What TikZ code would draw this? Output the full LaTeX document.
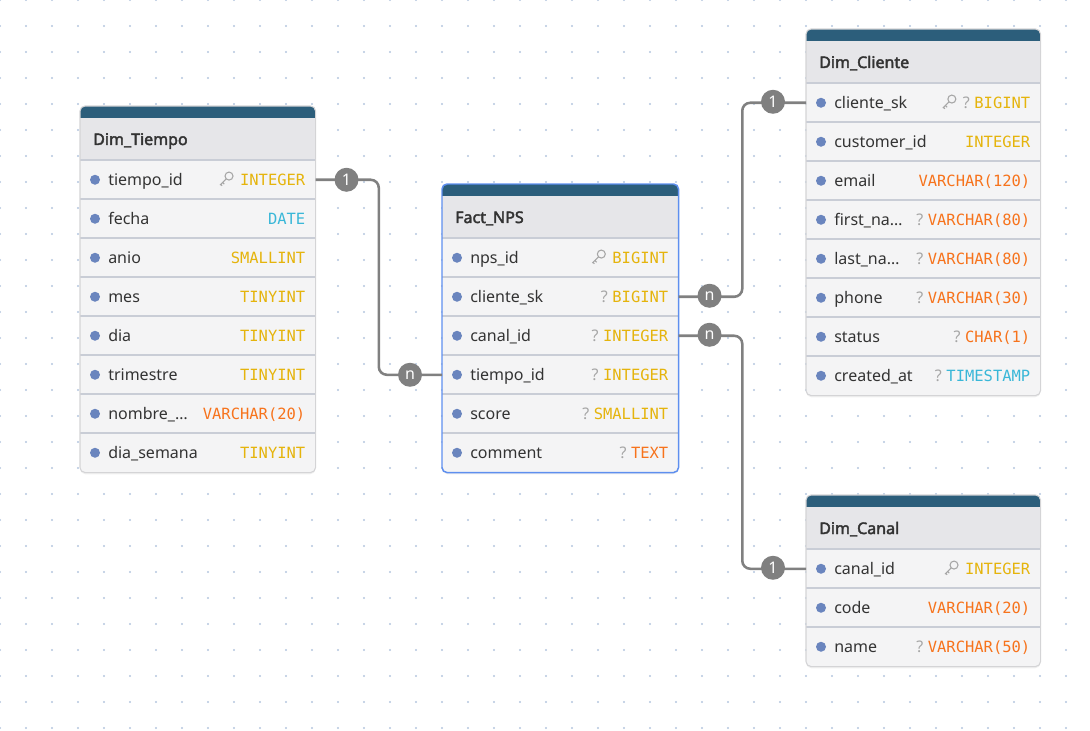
\documentclass[tikz,border=0pt]{standalone}
\usepackage{fontspec}
\setmainfont{Noto Sans}[AutoFakeBold=2.5]
\newfontfamily\typefont{DejaVu Sans Mono}
\usetikzlibrary{calc,shadows}

\definecolor{barfill}{HTML}{2C5E7B}
\definecolor{headfill}{HTML}{E6E6E9}
\definecolor{rowfill}{HTML}{F4F4F5}
\definecolor{sepcol}{HTML}{C9CDD6}
\definecolor{bordercol}{HTML}{D4D4D6}
\definecolor{selcol}{HTML}{5E8FEF}
\definecolor{dotcol}{HTML}{6A85BE}
\definecolor{namecol}{HTML}{333333}
\definecolor{tyint}{HTML}{E5B40C}
\definecolor{tystr}{HTML}{F7731C}
\definecolor{tydate}{HTML}{39B7D8}
\definecolor{qcol}{HTML}{A6A6A6}
\definecolor{relgray}{HTML}{808080}
\definecolor{gridcol}{HTML}{B4C6DE}

\newcommand{\pxu}{0.75pt}

\tikzset{
  tablebox/.style={rectangle, anchor=north west, inner sep=0pt, fill=rowfill,
    rounded corners=3.75pt,
    drop shadow={opacity=0.12, shadow xshift=0pt, shadow yshift=-1.5pt}},
  headbar/.style={fill=headfill},
  topbar/.style={fill=barfill},
  rowbox/.style={rectangle, anchor=north west, inner sep=0pt, minimum height=39*\pxu},
  sepline/.style={draw=sepcol, line width=0.8pt},
  titletext/.style={anchor=base west, inner sep=0pt, text=namecol,
    font=\fontsize{12}{14}\selectfont\bfseries},
  nametext/.style={anchor=base west, inner sep=0pt, text=namecol,
    font=\fontsize{12}{14}\selectfont},
  typetext/.style={anchor=base east, inner sep=0pt,
    font=\typefont\fontsize{11.6}{14}\selectfont},
  qtext/.style={anchor=base east, inner sep=0pt, text=qcol,
    font=\fontsize{12}{14}\selectfont},
  keyline/.style={draw=qcol, line width=0.8pt},
  keyic/.pic={
    \draw[keyline] (3.2,-3.2) circle (4);
    \draw[keyline] (0.4,-0.4) -- (-5.8,5.8) (-3.2,3.2) -- (-1.5,4.9) (-5.1,5.1) -- (-3.7,6.5);
  },
  rel/.style={draw=relgray, line width=1.9pt, rounded corners=6pt},
  card/.style={circle, fill=relgray, text=white, minimum size=24*\pxu, inner sep=0pt,
    font=\fontsize{12}{12}\selectfont},
  griddot/.style={fill=gridcol},
}

% name, x, y, width, rows, border, title, {name/mark/type/colour}
% mark: 0 none, 1 ?, 2 key, 3 key and ?
\newcommand{\ertable}[8]{%
  \node[tablebox, minimum width=#4*\pxu, minimum height=(54+39*#5)*\pxu] (#1) at (#2,#3) {};
  \begin{scope}
    \clip[rounded corners=3.75pt] (#1.north west) rectangle (#1.south east);
    \fill[headbar] (#1.north west) rectangle ($(#1.north east)+(0,54)$);
    \fill[topbar] (#1.north west) rectangle ($(#1.north east)+(0,12)$);
  \end{scope}
  \node[titletext] (#1-title) at ($(#1.north west)+(13,39)$) {#7};
  \foreach \fname/\fmark/\ftype/\fcol [count=\i] in {#8} {
    \node[rowbox, minimum width=#4*\pxu] (#1-\i) at ($(#1.north west)+(0,15+39*\i)$) {};
    \draw[sepline] (#1-\i.north west) -- (#1-\i.north east);
    \fill[dotcol] ($(#1-\i.west)+(15,0)$) circle (5);
    \node[nametext] (#1-\i-n) at ($(#1-\i.west)+(28,6)$) {\fname};
    \node[typetext, text=\fcol] (#1-\i-t) at ($(#1-\i.east)+(-10,6)$) {\ftype};
    \ifodd\fmark\relax
      \node[qtext] (#1-\i-q) at ($(#1-\i-t.base west)+(-4,0)$) {?};
      \coordinate (#1-\i-k) at (#1-\i-q.west);
    \else
      \coordinate (#1-\i-k) at (#1-\i-t.west);
    \fi
    \ifnum\fmark>1\relax
      \path (#1-\i-k |- #1-\i.west) ++(-14,-0.5) pic {keyic};
    \fi
  }
  \draw[#6, rounded corners=3.75pt] (#1.north west) rectangle (#1.south east);
}

\begin{document}
\begin{tikzpicture}[x=0.75pt,y=-0.75pt]
  \useasboundingbox (0,0) rectangle (1090,731);
  \foreach \gx in {0,26,...,1090}
    \foreach \gy in {0,26,...,731}
      \fill[griddot] (\gx,\gy) circle (1.1);

  \ertable{tiempo}{80}{106}{235}{8}{draw=bordercol, line width=0.8pt}{Dim\_Tiempo}{
    tiempo\_id/2/INTEGER/tyint, fecha/0/DATE/tydate, anio/0/SMALLINT/tyint,
    mes/0/TINYINT/tyint, dia/0/TINYINT/tyint, trimestre/0/TINYINT/tyint,
    nombre\_…/0/VARCHAR(20)/tystr, dia\_semana/0/TINYINT/tyint}
  \ertable{fact}{442}{184}{236}{6}{draw=selcol, line width=1.1pt}{Fact\_NPS}{
    nps\_id/2/BIGINT/tyint, cliente\_sk/1/BIGINT/tyint, canal\_id/1/INTEGER/tyint,
    tiempo\_id/1/INTEGER/tyint, score/1/SMALLINT/tyint, comment/1/TEXT/tystr}
  \ertable{cliente}{806}{29}{234}{8}{draw=bordercol, line width=0.8pt}{Dim\_Cliente}{
    cliente\_sk/3/BIGINT/tyint, customer\_id/0/INTEGER/tyint, email/0/VARCHAR(120)/tystr,
    first\_na…/1/VARCHAR(80)/tystr, last\_na…/1/VARCHAR(80)/tystr,
    phone/1/VARCHAR(30)/tystr, status/1/CHAR(1)/tystr, created\_at/1/TIMESTAMP/tydate}
  \ertable{canal}{806}{495}{234}{3}{draw=bordercol, line width=0.8pt}{Dim\_Canal}{
    canal\_id/2/INTEGER/tyint, code/0/VARCHAR(20)/tystr, name/1/VARCHAR(50)/tystr}

  % relations
  \draw[rel] (tiempo-1.east) -| ($(tiempo-1.east)!0.5!(fact-4.west)$) |- (fact-4.west);
  \draw[rel] (fact-2.east) -| ($(fact-2.east)!0.5!(cliente-1.west)$) |- (cliente-1.west);
  \draw[rel] (fact-3.east) -| ($(fact-3.east)!0.5!(canal-1.west)$) |- (canal-1.west);
  \node[card] (tiempo-one) at ($(tiempo-1.east)+(31,0)$) {1};
  \node[card] (fact-many-t) at ($(fact-4.west)+(-32,0)$) {n};
  \node[card] (fact-many-c) at ($(fact-2.east)+(31,-1)$) {n};
  \node[card] (cliente-one) at ($(cliente-1.west)+(-33,-1)$) {1};
  \node[card] (fact-many-k) at ($(fact-3.east)+(31,-1)$) {n};
  \node[card] (canal-one) at ($(canal-1.west)+(-33,-1)$) {1};
\end{tikzpicture}
\end{document}
